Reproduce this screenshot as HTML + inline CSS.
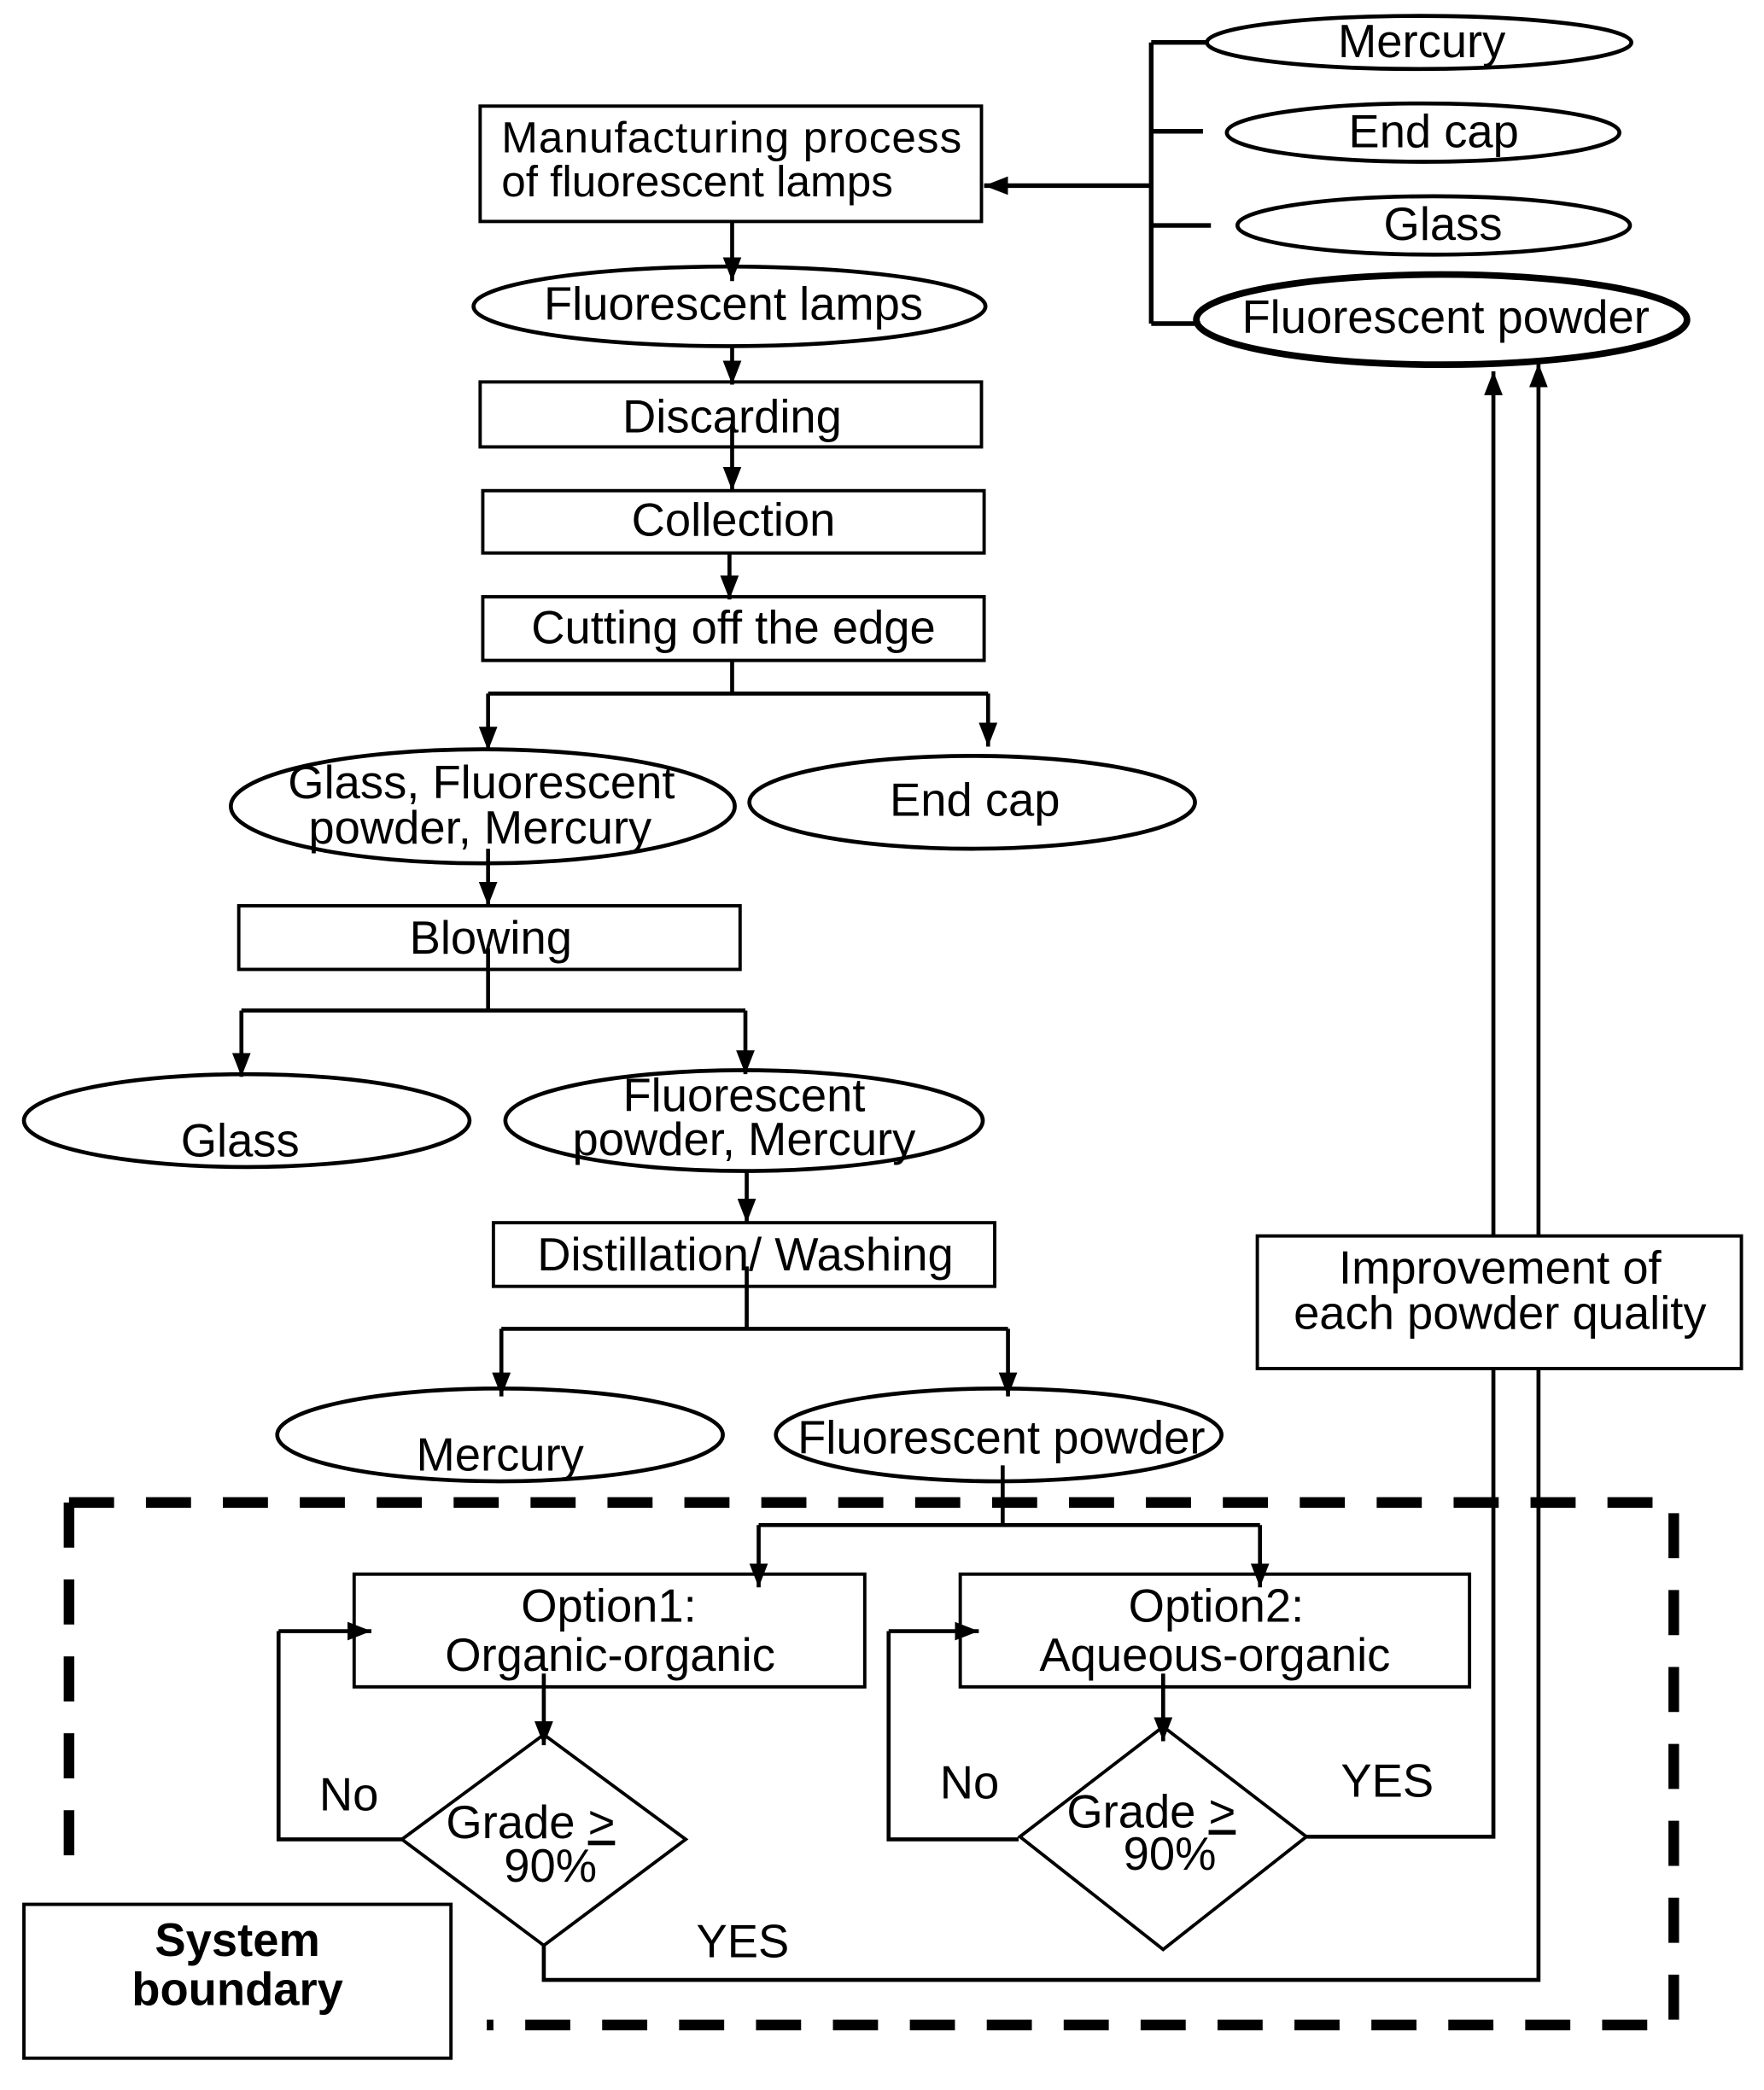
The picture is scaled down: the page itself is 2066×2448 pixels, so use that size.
<!DOCTYPE html>
<html><head><meta charset="utf-8"><style>html,body{margin:0;padding:0;background:#fff}svg{display:block}</style></head>
<body>
<svg width="2066" height="2448" viewBox="0 0 1330 1576" xmlns="http://www.w3.org/2000/svg" font-family="Liberation Sans, Arial, sans-serif" font-size="35">
<defs><marker id="b" viewBox="0 0 18 14" refX="18" refY="7" markerWidth="18" markerHeight="14" markerUnits="userSpaceOnUse" orient="auto"><path d="M0,0 L18,7 L0,14z" fill="#000"/></marker></defs>
<g fill="none" stroke="#000" stroke-width="3">
<ellipse cx="1070" cy="32" rx="160" ry="20"/>
<ellipse cx="1073" cy="100" rx="148" ry="22"/>
<ellipse cx="1081" cy="170" rx="148" ry="22"/>
<ellipse cx="1087" cy="241" rx="185" ry="34" stroke-width="5"/>
<path d="M868 32V244M868 32H910M868 99H907M868 170H913M868 244H905" stroke-width="3.5"/>
<path d="M868 140H742" marker-end="url(#b)" stroke-width="3.5"/>
<rect x="362" y="80" width="378" height="87" stroke-width="2.5"/>
<path d="M552 167V212" marker-end="url(#b)"/>
<ellipse cx="550" cy="231" rx="193" ry="30"/>
<path d="M552 260V290" marker-end="url(#b)"/>
<rect x="362" y="288" width="378" height="49" stroke-width="2.5"/>
<path d="M552 320V370" marker-end="url(#b)"/>
<rect x="364" y="370" width="378" height="47" stroke-width="2.5"/>
<path d="M550 417V452" marker-end="url(#b)"/>
<rect x="364" y="450" width="378" height="48" stroke-width="2.5"/>
<path d="M552 498V523M368 523H745" stroke-width="3"/>
<path d="M368 523V566" marker-end="url(#b)"/>
<path d="M745 523V563" marker-end="url(#b)"/>
<ellipse cx="364" cy="608" rx="190" ry="43"/>
<ellipse cx="733" cy="605" rx="168" ry="35"/>
<path d="M368 640V683" marker-end="url(#b)"/>
<rect x="180" y="683" width="378" height="48" stroke-width="2.5"/>
<path d="M368 715V762M182 762H562"/>
<path d="M182 762V812" marker-end="url(#b)"/>
<path d="M562 762V810" marker-end="url(#b)"/>
<ellipse cx="186" cy="845" rx="168" ry="35"/>
<ellipse cx="561" cy="845" rx="180" ry="38"/>
<path d="M563 883V922" marker-end="url(#b)"/>
<rect x="372" y="922" width="378" height="48" stroke-width="2.5"/>
<path d="M563 955V1002M378 1002H760"/>
<path d="M378 1002V1053" marker-end="url(#b)"/>
<path d="M760 1002V1053" marker-end="url(#b)"/>
<ellipse cx="377" cy="1082" rx="168" ry="35"/>
<ellipse cx="753" cy="1082" rx="168" ry="35"/>
<path d="M756 1105V1150M572 1150H950"/>
<path d="M572 1150V1197" marker-end="url(#b)"/>
<path d="M950 1150V1197" marker-end="url(#b)"/>
<rect x="267" y="1187" width="385" height="85" stroke-width="2.5"/>
<rect x="724" y="1187" width="384" height="85" stroke-width="2.5"/>
<path d="M410 1262V1316" marker-end="url(#b)"/>
<path d="M877 1262V1313" marker-end="url(#b)"/>
<path d="M410 1308L517 1387L410 1467L303 1387Z" stroke-width="2.5"/>
<path d="M877 1302L985 1385L877 1470L769 1385Z" stroke-width="2.5"/>
<path d="M303 1387H210V1230" />
<path d="M210 1230H280" marker-end="url(#b)"/>
<path d="M768 1387H670V1230"/>
<path d="M670 1230H738" marker-end="url(#b)"/>
<path d="M985 1385H1126V1000"/>
<path d="M1126 1000V280" marker-end="url(#b)"/>
<path d="M410 1467V1493H1160V1000"/>
<path d="M1160 1000V274" marker-end="url(#b)"/>
<rect x="948" y="932" width="365" height="100" fill="#fff" stroke-width="2.5"/>
<path d="M52 1133H1262V1527H367M52 1133V1415" stroke-width="8" stroke-dasharray="34,24"/>
<rect x="18" y="1436" width="322" height="116" stroke-width="2.5"/>
</g>
<g fill="#000" text-anchor="middle">
<text x="1072" y="43">Mercury</text>
<text x="1081" y="111">End cap</text>
<text x="1088" y="181">Glass</text>
<text x="1090" y="251">Fluorescent powder</text>
<text x="378" y="115" text-anchor="start" font-size="33" textLength="347">Manufacturing  process</text>
<text x="378" y="148" text-anchor="start" font-size="33">of fluorescent lamps</text>
<text x="553" y="241">Fluorescent lamps</text>
<text x="552" y="326">Discarding</text>
<text x="553" y="404">Collection</text>
<text x="553" y="485">Cutting off the edge</text>
<text x="363" y="602">Glass, Fluorescent</text>
<text x="362" y="636">powder, Mercury</text>
<text x="735" y="615">End cap</text>
<text x="370" y="719">Blowing</text>
<text x="181" y="872">Glass</text>
<text x="561" y="838">Fluorescent</text>
<text x="561" y="871">powder, Mercury</text>
<text x="562" y="958">Distillation/ Washing</text>
<text x="377" y="1109">Mercury</text>
<text x="755" y="1096">Fluorescent powder</text>
<text x="459" y="1223">Option1:</text>
<text x="460" y="1260">Organic-organic</text>
<text x="917" y="1223">Option2:</text>
<text x="916" y="1260">Aqueous-organic</text>
<text x="400" y="1386">Grade <tspan text-decoration="underline">&gt;</tspan></text>
<text x="415" y="1419">90%</text>
<text x="868" y="1378">Grade <tspan text-decoration="underline">&gt;</tspan></text>
<text x="882" y="1410">90%</text>
<text x="263" y="1365">No</text>
<text x="731" y="1356">No</text>
<text x="1046" y="1355">YES</text>
<text x="560" y="1476">YES</text>
<text x="1131" y="968">Improvement of</text>
<text x="1131" y="1002">each powder quality</text>
<text x="179" y="1475" font-weight="bold">System</text>
<text x="179" y="1512" font-weight="bold">boundary</text>
</g>
</svg>
</body></html>
